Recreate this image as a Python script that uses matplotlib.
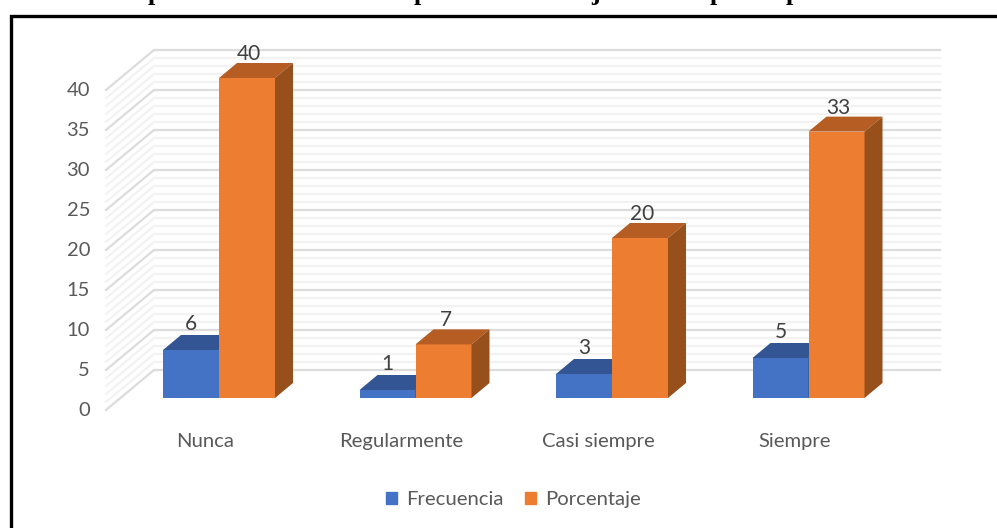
import matplotlib
matplotlib.use('Agg')
import matplotlib.pyplot as plt
from matplotlib.patches import Polygon, Patch

categories = ['Nunca', 'Regularmente', 'Casi siempre', 'Siempre']
frecuencia = [6, 1, 3, 5]
porcentaje = [40, 6.7, 20, 33.3]
y_ticks = [0, 5, 10, 15, 20, 25, 30, 35, 40]
title_bits = [('p', 155), ('p', 421), ('j', 596), ('p', 717), ('p', 793)]

BLUE = ('#4472C4', '#335593', '#2F5089')
ORANGE = ('#ED7D31', '#B55D22', '#97501C')
TXT = '#595959'
FONT = 'Lato'

W, H = 997, 528
# one category = 196.5 px, one value unit = 8 px, origin at the first bar pair
PX_CAT = 196.5
PX_VAL = 8.0
X0, Y0 = 219.0, 398.0

fig = plt.figure(figsize=(W / 100, H / 100), dpi=100)
ax = fig.add_axes([0, 0, 1, 1])
ax.set_xlim(-X0 / PX_CAT, (W - X0) / PX_CAT)
ax.set_ylim((Y0 - H) / PX_VAL, Y0 / PX_VAL)
ax.axis('off')

bar_w = 56 / PX_CAT
dep_x = 18 / PX_CAT
dep_y = 15 / PX_VAL

# walls of the 3d box
wall_l = (106 - X0) / PX_CAT
wall_b = (154 - X0) / PX_CAT
wall_r = (940 - X0) / PX_CAT
front_y = -12 / PX_VAL
back_y = 28 / PX_VAL

for v in range(0, y_ticks[-1] + 1):
    major = v in y_ticks
    ax.plot([wall_l, wall_b, wall_r], [v + front_y, v + back_y, v + back_y],
            color='#DCDCDC' if major else '#F2F2F2', lw=1.6, zorder=2 if major else 1,
            solid_joinstyle='miter')


def bar3d(x, v, cols, z):
    ax.add_patch(Polygon([(x, 0), (x + bar_w, 0), (x + bar_w, v), (x, v)], fc=cols[0], ec='none', zorder=z))
    ax.add_patch(Polygon([(x, v), (x + bar_w, v), (x + bar_w + dep_x, v + dep_y), (x + dep_x, v + dep_y)],
                         fc=cols[1], ec='none', zorder=z))
    ax.add_patch(Polygon([(x + bar_w, 0), (x + bar_w + dep_x, dep_y), (x + bar_w + dep_x, v + dep_y), (x + bar_w, v)],
                         fc=cols[2], ec='none', zorder=z))


for i in range(len(categories)):
    bar3d(i - bar_w, frecuencia[i], BLUE, 3)
    bar3d(i, porcentaje[i], ORANGE, 4)
    ax.text(i - bar_w / 2, frecuencia[i] + 3.2, f'{frecuencia[i]:.0f}', ha='center', va='center',
            fontsize=15, color='#404040', family=FONT, zorder=5)
    ax.text(i + bar_w / 2 + 2 / PX_CAT, porcentaje[i] + 3.0, f'{porcentaje[i]:.0f}', ha='center', va='center',
            fontsize=15, color='#404040', family=FONT, zorder=5)
    ax.text(i - 14 / PX_CAT, -43.5 / PX_VAL, categories[i], ha='center', va='center',
            fontsize=14.6, color=TXT, family=FONT)

for v in y_ticks:
    ax.text((90 - X0) / PX_CAT, v + front_y - 1 / PX_VAL, str(v), ha='right', va='center',
            fontsize=14.5, color=TXT, family=FONT)

leg = ax.legend(handles=[Patch(color=BLUE[0], label='Frecuencia'), Patch(color=ORANGE[0], label='Porcentaje')],
                loc='center', bbox_to_anchor=(513.5 / W, 1 - 499.5 / H), ncol=2, frameon=False,
                prop={'family': FONT, 'size': 14.6}, labelcolor=TXT,
                handlelength=0.55, handleheight=0.55, handletextpad=0.45, columnspacing=1.05)

# frame: top and left only, the crop cuts the others
ax.plot([10.5 / W, 10.5 / W, 1], [0, 1 - 15.5 / H, 1 - 15.5 / H], transform=ax.transAxes,
        color='black', lw=2.4, solid_joinstyle='miter', clip_on=False)

# what is left of the cropped title
for ch, px in title_bits:
    ax.text((px - X0) / PX_CAT, (Y0 - 0) / PX_VAL, ch, ha='center', va='baseline', fontsize=19,
            fontweight='bold', family='Liberation Serif', color='black', clip_on=True)

fig.savefig('out.png', dpi=100)
